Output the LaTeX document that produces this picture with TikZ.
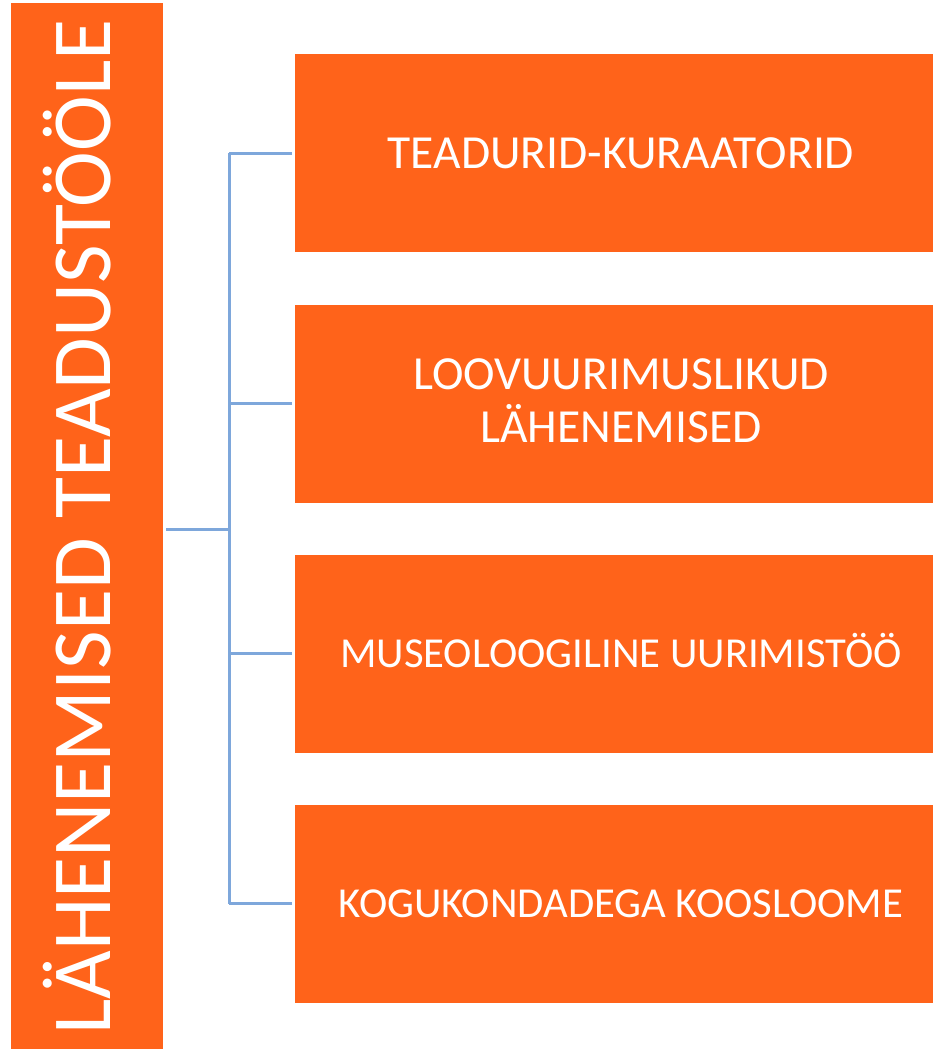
\documentclass[tikz,border=0pt]{standalone}
\usepackage{fontspec}
\setmainfont{Carlito}
\definecolor{boxorange}{RGB}{255,99,26}
\definecolor{linkblue}{RGB}{126,167,219}
\begin{document}
\begin{tikzpicture}[x=1pt,y=-1pt,
  obox/.style={fill=boxorange, draw=none, text=white, inner sep=0pt},
  rbox/.style={obox, minimum width=652pt, minimum height=198pt, align=center,
    text depth=0pt},
  bigtext/.style={font=\fontsize{47.5pt}{53pt}\selectfont, text height=30pt},
  smalltext/.style={font=\fontsize{42.7pt}{52pt}\selectfont, text height=27pt},
  link/.style={draw=linkblue, line width=3pt}]
\useasboundingbox (0,0) rectangle (933,1049);
\node[obox, minimum width=152pt, minimum height=1048pt] (L) at (87,527)
  {\rotatebox{90}{\fontsize{84pt}{100pt}\selectfont\rule{0pt}{47pt}\smash{LÄHENEMISED TEADUSTÖÖLE}}};
\node[rbox, bigtext] (b1) at (621,153) {TEADURID-KURAATORID};
\node[rbox, bigtext, text height=78pt] (b2) at (621,403.5) {LOOVUURIMUSLIKUD\\LÄHENEMISED};
\node[rbox, smalltext] (b3) at (621,653.5) {MUSEOLOOGILINE UURIMISTÖÖ};
\node[rbox, smalltext] (b4) at (621,903.5) {KOGUKONDADEGA KOOSLOOME};
\coordinate (j) at (229,529);
\draw[link, shorten <=3pt] (L.east |- j) -- (j);
\draw[link] (j |- b1.west) -- (j |- b4.west);
\foreach \b in {b1,b2,b3,b4}
  \draw[link, shorten >=3pt] (j |- \b.west) -- (\b.west);
\end{tikzpicture}
\end{document}
